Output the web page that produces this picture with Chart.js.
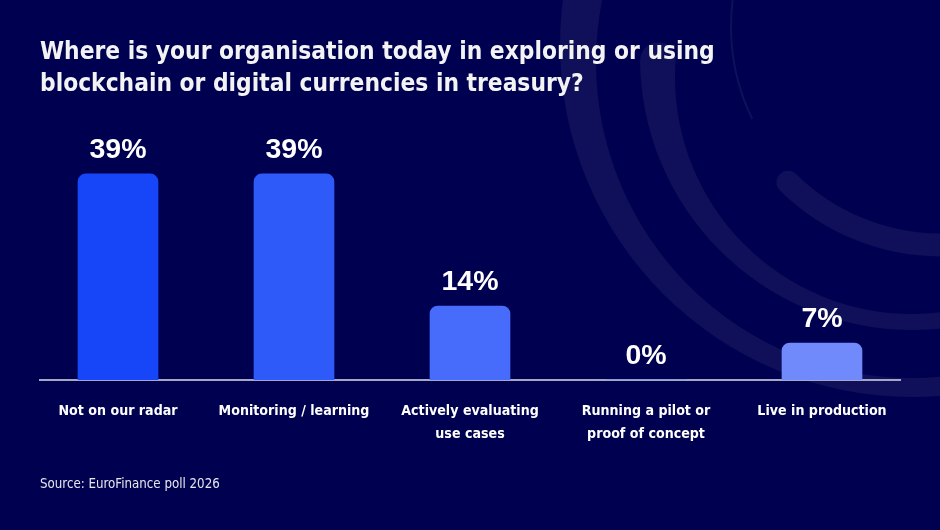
<!DOCTYPE html>
<html><head><meta charset="utf-8">
<script src="https://cdn.jsdelivr.net/npm/chart.js@4.4.1/dist/chart.umd.min.js"></script>
<style>
html,body{margin:0;padding:0;background:#000050;overflow:hidden;}
#wrap{width:940px;height:530px;position:relative;}
</style>
</head><body>
<div id="wrap"><canvas id="c" width="940" height="530"></canvas></div>
<script>
// ---- data ----
const titleLines = ['Where is your organisation today in exploring or using', 'blockchain or digital currencies in treasury?'];
const categories = [['Not on our radar'], ['Monitoring / learning'], ['Actively evaluating', 'use cases'], ['Running a pilot or', 'proof of concept'], ['Live in production']];
const values = [39, 39, 14, 0, 7];
const barColors = ['#1646f7', '#2e5afa', '#476bfb', '#5a7cfb', '#7089fb'];
const sourceText = 'Source: EuroFinance poll 2026';

const condensed = '"DejaVu Sans Condensed", "DejaVu Sans", sans-serif';

const bgPlugin = {
  id: 'bg',
  beforeDraw(chart) {
    const ctx = chart.ctx;
    ctx.save();
    ctx.fillStyle = '#000050';
    ctx.fillRect(0, 0, chart.width, chart.height);
    ctx.fillStyle = '#0f0f5a';
    // outer band (variable thickness ring)
    ctx.beginPath();
    ctx.arc(912, 45, 352, 0, Math.PI * 2);
    ctx.arc(912, 62, 316, 0, Math.PI * 2);
    ctx.fill('evenodd');
    // middle band (lower half + round cap)
    ctx.save();
    ctx.beginPath();
    ctx.rect(0, 60, chart.width, chart.height);
    ctx.clip();
    ctx.beginPath();
    ctx.arc(912, 58, 272, 0, Math.PI * 2);
    ctx.arc(912, 77, 237, 0, Math.PI * 2);
    ctx.fill('evenodd');
    ctx.restore();
    ctx.beginPath();
    ctx.arc(658, 60, 17.8, Math.PI, Math.PI * 2);
    ctx.fill();
    // inner band
    ctx.strokeStyle = '#0f0f5a';
    ctx.lineCap = 'round';
    ctx.lineWidth = 23;
    ctx.beginPath();
    ctx.arc(941, 27, 218, 0, 134.6 * Math.PI / 180);
    ctx.stroke();
    // thin arc
    ctx.lineWidth = 2;
    ctx.lineCap = 'butt';
    ctx.beginPath();
    ctx.arc(941, 27, 210, 154 * Math.PI / 180, 1.5 * Math.PI);
    ctx.stroke();
    ctx.restore();
  }
};

const valueLabels = {
  id: 'valueLabels',
  afterDatasetsDraw(chart) {
    const ctx = chart.ctx;
    const meta = chart.getDatasetMeta(0);
    ctx.save();
    ctx.fillStyle = '#ffffff';
    ctx.font = 'bold 28.5px "Liberation Sans", Arial, sans-serif';
    ctx.textAlign = 'center';
    ctx.textBaseline = 'middle';
    meta.data.forEach((bar, i) => {
      ctx.fillText(values[i] + '%', bar.x, bar.y - 24);
    });
    ctx.restore();
  }
};

const xMin = -0.4432, xMax = 4.4432;

new Chart(document.getElementById('c'), {
  type: 'bar',
  data: {
    datasets: [{
      data: values.map((v, i) => ({ x: i, y: v })),
      backgroundColor: barColors,
      borderRadius: { topLeft: 8, topRight: 8, bottomLeft: 0, bottomRight: 0 },
      borderSkipped: 'bottom',
      barThickness: 80
    }]
  },
  options: {
    responsive: false,
    devicePixelRatio: 1,
    animation: false,
    layout: { padding: { left: 40, right: 40, top: 0, bottom: 0 } },
    plugins: {
      legend: { display: false },
      tooltip: { enabled: false },
      title: {
        display: true,
        text: titleLines,
        align: 'start',
        color: '#f3f3f3',
        font: { family: condensed, size: 24.3, weight: 'bold', lineHeight: 32.5 / 24.3 },
        padding: { top: 36.25, bottom: 30.35 }
      },
      subtitle: {
        display: true,
        position: 'bottom',
        text: sourceText,
        align: 'start',
        color: '#e6e6ee',
        font: { family: condensed, size: 13.2, weight: 'normal', lineHeight: 18 / 13.2 },
        padding: { top: 10, bottom: 36 }
      }
    },
    scales: {
      x: {
        type: 'linear',
        offset: false,
        min: xMin,
        max: xMax,
        z: 1,
        grid: { display: false, drawTicks: false },
        border: { display: true, color: '#a6a7c6', width: 2 },
        afterBuildTicks: (scale) => { scale.ticks = categories.map((_, i) => ({ value: i })); },
        ticks: {
          autoSkip: false,
          maxRotation: 0,
          minRotation: 0,
          padding: 20,
          color: '#ffffff',
          font: { family: condensed, size: 14.1, weight: 'bold', lineHeight: 23 / 14.1 },
          callback: (v) => categories[v] || ''
        }
      },
      y: {
        display: false,
        min: 0,
        max: 47
      }
    }
  },
  plugins: [bgPlugin, valueLabels]
});
</script>
</body></html>
